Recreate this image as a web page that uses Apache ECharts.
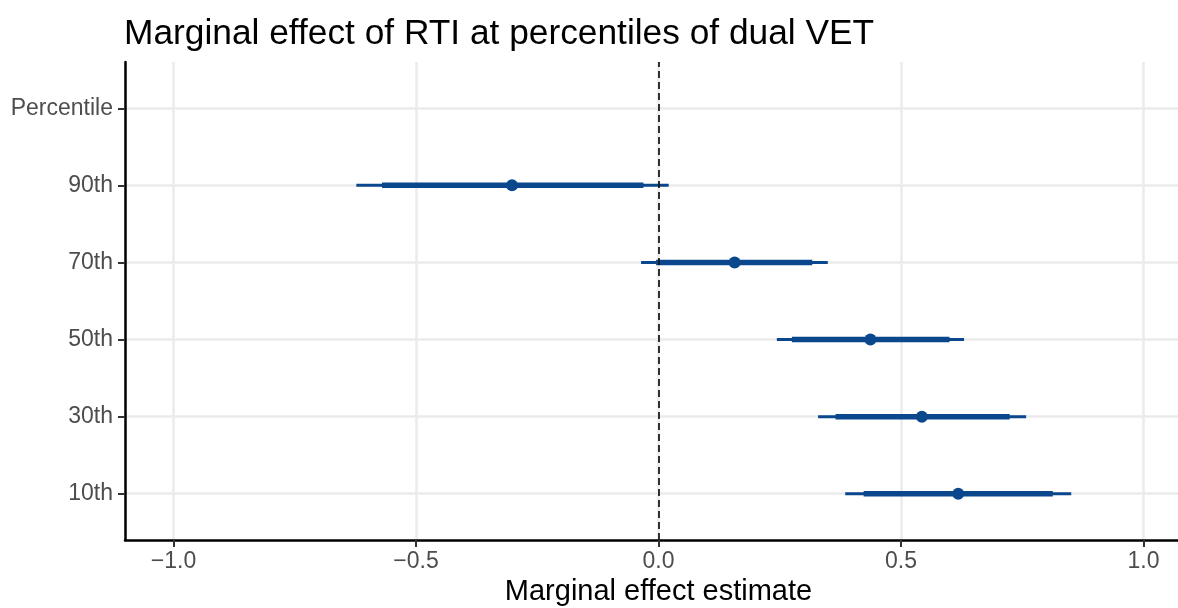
<!DOCTYPE html>
<html>
<head>
<meta charset="utf-8">
<script src="https://cdn.jsdelivr.net/npm/echarts@6/dist/echarts.min.js"></script>
<style>
html,body{margin:0;padding:0;background:#fff;}
#chart{width:1178px;height:608px;}
</style>
</head>
<body>
<div id="chart"></div>
<script>
// Data
const categories = ['10th', '30th', '50th', '70th', '90th'];
const yTickLabels = ['10th', '30th', '50th', '70th', '90th', 'Percentile'];
const estimates = [0.618, 0.543, 0.437, 0.157, -0.302];
const ci95Low  = [0.385, 0.329, 0.244, -0.036, -0.623];
const ci95High = [0.851, 0.758, 0.630, 0.349, 0.021];
const ci90Low  = [0.423, 0.365, 0.275, -0.005, -0.570];
const ci90High = [0.813, 0.724, 0.600, 0.317, -0.031];
const xTicks = [-1.0, -0.5, 0.0, 0.5, 1.0];

const FONT = '"Liberation Sans", Arial, Helvetica, sans-serif';
const BLUE = '#0b478c';

const yPos = categories.map((c, i) => i + 1);
const wideData = categories.map((c, i) => [ci95Low[i], ci95High[i], yPos[i]]);
const narrowData = categories.map((c, i) => [ci90Low[i], ci90High[i], yPos[i]]);
const pointData = categories.map((c, i) => [estimates[i], yPos[i]]);

function barRenderer(width) {
  return function (params, api) {
    const a = api.coord([api.value(0), api.value(2)]);
    const b = api.coord([api.value(1), api.value(2)]);
    return {
      type: 'line',
      shape: { x1: a[0], y1: a[1], x2: b[0], y2: b[1] },
      style: { stroke: BLUE, lineWidth: width, lineCap: 'butt' }
    };
  };
}

const fmt = v => {
  const s = Math.abs(v).toFixed(1);
  return v < 0 ? '\u2212' + s : s;
};

const chart = echarts.init(document.getElementById('chart'), null, { renderer: 'canvas' });
chart.setOption({
  animation: false,
  backgroundColor: '#ffffff',
  title: {
    text: 'Marginal effect of RTI at percentiles of dual VET',
    left: 119,
    top: 12,
    textStyle: { fontFamily: FONT, fontSize: 35.3, fontWeight: 'normal', color: '#000000' }
  },
  grid: { left: 125, top: 62, width: 1067, height: 478, containLabel: false, outerBoundsMode: 'none' },
  xAxis: {
    type: 'value',
    min: -1.1,
    max: 1.1,
    name: 'Marginal effect estimate',
    nameLocation: 'middle',
    nameGap: 34,
    nameTextStyle: { fontFamily: FONT, fontSize: 29, color: '#000000', verticalAlign: 'top' },
    axisLine: { show: true, onZero: false, lineStyle: { color: '#000000', width: 2.5 } },
    axisTick: { show: true, length: 7, customValues: xTicks, lineStyle: { color: '#333333', width: 2 } },
    axisLabel: {
      customValues: xTicks,
      formatter: fmt,
      margin: 10,
      fontFamily: FONT, fontSize: 23, color: '#4d4d4d'
    },
    splitLine: { show: true, lineStyle: { color: '#ebebeb', width: 2.5 } }
  },
  yAxis: {
    type: 'value',
    min: 0.4,
    max: 6.6,
    axisLine: { show: true, onZero: false, lineStyle: { color: '#000000', width: 2.5 } },
    axisTick: { show: true, length: 7, customValues: [1, 2, 3, 4, 5, 6], lineStyle: { color: '#333333', width: 2 } },
    axisLabel: {
      customValues: [1, 2, 3, 4, 5, 6],
      formatter: v => yTickLabels[Math.round(v) - 1],
      margin: 12,
      fontFamily: FONT, fontSize: 23, color: '#4d4d4d'
    },
    splitLine: { show: true, lineStyle: { color: '#ebebeb', width: 2.5 } }
  },
  series: [
    {
      type: 'custom',
      name: 'ci95',
      renderItem: barRenderer(3),
      encode: { x: [0, 1], y: 2 },
      data: wideData,
      z: 3
    },
    {
      type: 'custom',
      name: 'ci90',
      renderItem: barRenderer(5.5),
      encode: { x: [0, 1], y: 2 },
      data: narrowData,
      z: 4
    },
    {
      type: 'scatter',
      name: 'estimate',
      data: pointData,
      symbol: 'circle',
      symbolSize: 12,
      itemStyle: { color: BLUE, opacity: 1 },
      z: 5,
      markLine: {
        silent: true,
        symbol: ['none', 'none'],
        label: { show: false },
        lineStyle: { color: '#111111', type: [7, 4], width: 1.7, opacity: 1 },
        data: [{ xAxis: 0 }],
        z: 10
      }
    }
  ]
});
</script>
</body>
</html>
